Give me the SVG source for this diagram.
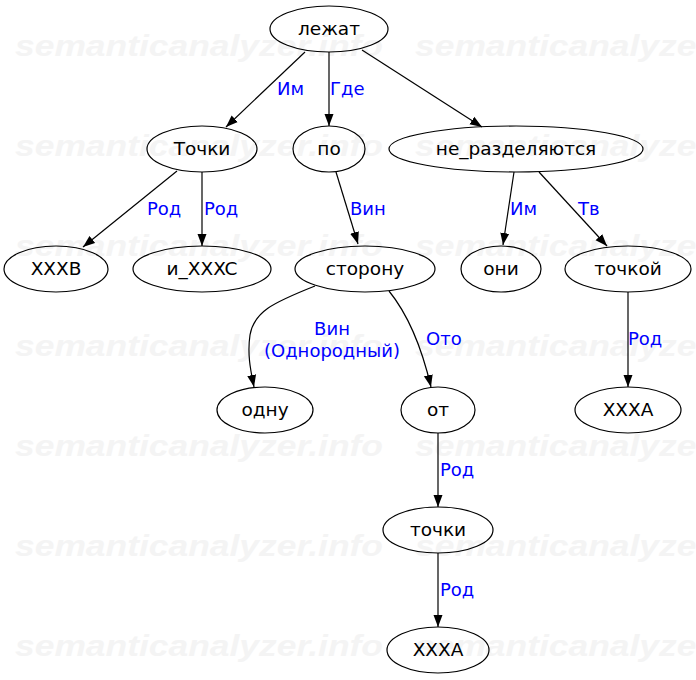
<svg xmlns="http://www.w3.org/2000/svg" width="696" height="680" viewBox="0 0 696 680">
<defs>
<marker id="arr" markerUnits="userSpaceOnUse" markerWidth="12" markerHeight="10" refX="12" refY="5" orient="auto"><path d="M0,0.5 L12,5 L0,9.5 z" fill="#000"/></marker>
<style>
.wm{font-family:"Liberation Sans",Arial,sans-serif;font-weight:bold;font-style:italic;font-size:29px;fill:#f4f4f4}
.n ellipse{fill:none;stroke:#000;stroke-width:1.2}
.n text{font-family:"DejaVu Sans",sans-serif;font-size:18.5px;fill:#000;text-anchor:middle}
.e path{fill:none;stroke:#000;stroke-width:1.2;marker-end:url(#arr)}
.e text{font-family:"DejaVu Sans",sans-serif;font-size:18px;fill:#0000ff}
</style>
</defs>
<rect width="696" height="680" fill="#fff"/>
<g id="watermark">
<text class="wm" x="15" y="56" textLength="368" lengthAdjust="spacingAndGlyphs">semanticanalyzer.info</text>
<text class="wm" x="415" y="56" textLength="368" lengthAdjust="spacingAndGlyphs">semanticanalyzer.info</text>
<text class="wm" x="15" y="156" textLength="368" lengthAdjust="spacingAndGlyphs">semanticanalyzer.info</text>
<text class="wm" x="415" y="156" textLength="368" lengthAdjust="spacingAndGlyphs">semanticanalyzer.info</text>
<text class="wm" x="15" y="256" textLength="368" lengthAdjust="spacingAndGlyphs">semanticanalyzer.info</text>
<text class="wm" x="415" y="256" textLength="368" lengthAdjust="spacingAndGlyphs">semanticanalyzer.info</text>
<text class="wm" x="15" y="356" textLength="368" lengthAdjust="spacingAndGlyphs">semanticanalyzer.info</text>
<text class="wm" x="415" y="356" textLength="368" lengthAdjust="spacingAndGlyphs">semanticanalyzer.info</text>
<text class="wm" x="15" y="456" textLength="368" lengthAdjust="spacingAndGlyphs">semanticanalyzer.info</text>
<text class="wm" x="415" y="456" textLength="368" lengthAdjust="spacingAndGlyphs">semanticanalyzer.info</text>
<text class="wm" x="15" y="556" textLength="368" lengthAdjust="spacingAndGlyphs">semanticanalyzer.info</text>
<text class="wm" x="415" y="556" textLength="368" lengthAdjust="spacingAndGlyphs">semanticanalyzer.info</text>
<text class="wm" x="15" y="656" textLength="368" lengthAdjust="spacingAndGlyphs">semanticanalyzer.info</text>
<text class="wm" x="415" y="656" textLength="368" lengthAdjust="spacingAndGlyphs">semanticanalyzer.info</text>
</g>
<g id="edges" class="e">
<path d="M305,52 L226,127"/><text x="277" y="95">Им</text>
<path d="M329,52 L329,126"/><text x="330" y="95">Где</text>
<path d="M362,50 L482,127"/>
<path d="M177,171 L83,247"/><text x="147" y="215">Род</text>
<path d="M202,172 L202,246"/><text x="204" y="215">Род</text>
<path d="M336,172 L358,244"/><text x="350" y="215">Вин</text>
<path d="M514,172 L503,245"/><text x="510" y="215">Им</text>
<path d="M539,172 L607,246"/><text x="578" y="215">Тв</text>
<path d="M628,292 L628,387"/><text x="628" y="345">Род</text>
<path d="M315,286 C272,303 254,312 250,335 C247,355 251,372 254,387"/>
<text x="332" y="335" text-anchor="middle">Вин</text>
<text x="332" y="357" text-anchor="middle">(Однородный)</text>
<path d="M389,291 C406,312 420,340 431,387"/><text x="426" y="345">Ото</text>
<path d="M438,433 L438,507"/><text x="440" y="476">Род</text>
<path d="M438,553 L438,627"/><text x="440" y="596">Род</text>
</g>
<g id="n_lezhat" class="n"><ellipse cx="329" cy="29" rx="59" ry="23"/><text x="329" y="35">лежат</text></g>
<g id="n_tochki1" class="n"><ellipse cx="202" cy="149" rx="55" ry="23"/><text x="202" y="155">Точки</text></g>
<g id="n_po" class="n"><ellipse cx="329" cy="149" rx="36" ry="23"/><text x="329" y="155">по</text></g>
<g id="n_nerazd" class="n"><ellipse cx="516" cy="149" rx="127" ry="23"/><text x="516" y="155">не_разделяются</text></g>
<g id="n_xxxb" class="n"><ellipse cx="56" cy="269" rx="52" ry="23"/><text x="56" y="275">XXXB</text></g>
<g id="n_ixxxc" class="n"><ellipse cx="202" cy="269" rx="69" ry="23"/><text x="202" y="275">и_XXXC</text></g>
<g id="n_storonu" class="n"><ellipse cx="365" cy="269" rx="70" ry="23"/><text x="365" y="275">сторону</text></g>
<g id="n_oni" class="n"><ellipse cx="501" cy="269" rx="40" ry="23"/><text x="501" y="275">они</text></g>
<g id="n_tochkoj" class="n"><ellipse cx="628" cy="269" rx="63" ry="23"/><text x="628" y="275">точкой</text></g>
<g id="n_odnu" class="n"><ellipse cx="265" cy="410" rx="48" ry="23"/><text x="265" y="416">одну</text></g>
<g id="n_ot" class="n"><ellipse cx="438" cy="410" rx="37" ry="23"/><text x="438" y="416">от</text></g>
<g id="n_xxxa1" class="n"><ellipse cx="628" cy="410" rx="53" ry="23"/><text x="628" y="416">XXXA</text></g>
<g id="n_tochki2" class="n"><ellipse cx="438" cy="530" rx="55" ry="23"/><text x="438" y="536">точки</text></g>
<g id="n_xxxa2" class="n"><ellipse cx="438" cy="650" rx="51" ry="23"/><text x="438" y="656">XXXA</text></g>
</svg>
